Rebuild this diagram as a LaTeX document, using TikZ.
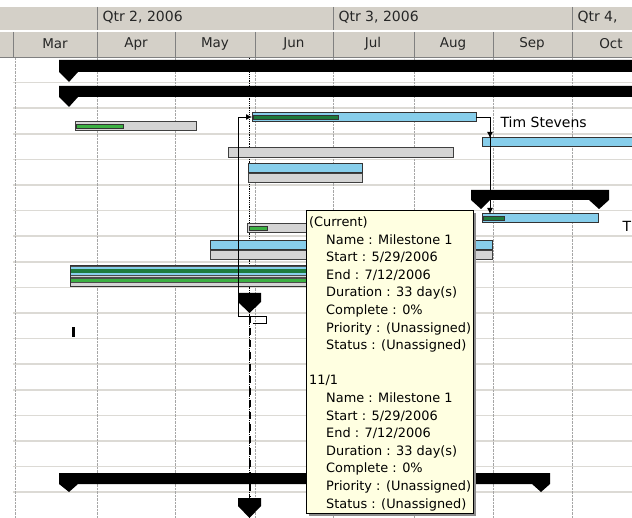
\documentclass[tikz,border=0pt]{standalone}
\usepackage{fontspec}
\setmainfont{DejaVu Sans}
\usepackage{xcolor}
\usepackage{tikz}
\usetikzlibrary{arrows.meta}

\definecolor{hdrgray}{HTML}{D4D0C8}
\definecolor{hdrline}{HTML}{808080}
\definecolor{rowline}{HTML}{DCDAD5}
\definecolor{barblue}{HTML}{87CEEB}
\definecolor{bargray}{HTML}{D4D4D4}
\definecolor{dkgreen}{HTML}{1E7B3C}
\definecolor{ltgreen}{HTML}{3CB043}
\definecolor{tipyellow}{HTML}{FFFFE1}

\tikzset{
	bluebar/.style={fill=barblue, draw=black!80, line width=1pt},
	graybar/.style={fill=bargray, draw=black!75, line width=1pt},
	donebar/.style={draw=black!80, line width=0.6pt},
	link/.style={draw=black, line width=0.8pt, -{Latex[length=6pt,width=6pt]}},
	monthlabel/.style={font=\fontsize{13.5}{15}\selectfont, text=black!85},
	qtrlabel/.style={font=\fontsize{14}{16}\selectfont, text=black!85, anchor=west},
	barlabel/.style={font=\fontsize{14}{16}\selectfont, anchor=west},
	tiptext/.style={font=\fontsize{12.9}{17.6}\selectfont, align=left, inner sep=0pt, anchor=north west}
}

\begin{document}
\begin{tikzpicture}[x=1pt, y=-1pt]
			\clip (0,0) rectangle (632,518);
			\fill[white] (0,0) rectangle (632,518);
			\fill[hdrgray] (0,7) rectangle (632,30);
			\fill[hdrgray] (0,32) rectangle (632,57);
			\draw[hdrline] (0,57) -- (632,57);
			\foreach \qx in {97,333,572} \draw[hdrline] (\qx,7) -- (\qx,30);
			\foreach \mx in {13,97,175,255,333,414,493,572} \draw[hdrline] (\mx,32) -- (\mx,57);
			\node[qtrlabel] (qtrtwo) at (99,17) {Qtr 2, 2006};
			\node[qtrlabel] (qtrthree) at (335,17) {Qtr 3, 2006};
			\node[qtrlabel] (qtrfour) at (574,17) {Qtr 4,};
			\node[monthlabel] (mar) at (55,44) {Mar};
			\node[monthlabel] (apr) at (136,44) {Apr};
			\node[monthlabel] (may) at (215,44) {May};
			\node[monthlabel] (jun) at (294,44) {Jun};
			\node[monthlabel] (jul) at (373,44) {Jul};
			\node[monthlabel] (aug) at (453,44) {Aug};
			\node[monthlabel] (sep) at (532,44) {Sep};
			\node[monthlabel] (oct) at (611,44) {Oct};
			\foreach \k in {1,...,17} \draw[rowline, line width=1.5pt] (13,57+25.6*\k) -- (632,57+25.6*\k);
			\foreach \gx in {15,97,175,255,333,414,493,572} \draw[gray!70, densely dotted] (\gx,58) -- (\gx,518);
			\draw[black, densely dotted, line width=0.8pt] (249,58) -- (249,518);
			\fill (59,60) -- (633,60) -- (633,72) -- (78,72) -- (69,82) -- (59,72) -- cycle;
			\fill (59,86) -- (633,86) -- (633,97) -- (78,97) -- (69,107) -- (59,97) -- cycle;
			\fill (471,190) -- (609,190) -- (609,200) -- (599,209) -- (589,200) -- (490,200) -- (481,209) -- (471,200) -- cycle;
			\fill (59,473) -- (550,473) -- (550,484) -- (541,492) -- (532,484) -- (78,484) -- (69,492) -- (59,484) -- cycle;
			\draw[graybar] (75,122) rectangle (196,131);
			\draw[donebar, fill=ltgreen] (76,124) rectangle (123,128.5);
			\draw[bluebar] (252,113) rectangle (476,122);
			\draw[donebar, fill=dkgreen] (253,115) rectangle (338,119);
			\draw[bluebar] (482,138) rectangle (640,147);
			\draw[graybar] (228,148) rectangle (453,158);
			\draw[bluebar] (248,164) rectangle (362,173);
			\draw[graybar] (248,174) rectangle (362,183);
			\draw[bluebar] (482,214) rectangle (598,223);
			\draw[donebar, fill=dkgreen] (483,216) rectangle (504,220);
			\draw[graybar] (247,224) rectangle (320,233);
			\draw[donebar, fill=ltgreen] (249,226) rectangle (267,230);
			\draw[bluebar] (210,241) rectangle (492,250);
			\draw[graybar] (210,251) rectangle (492,260);
			\draw[fill=black!70, draw=black!80, line width=1pt] (70,266) rectangle (320,287);
			\fill[barblue] (71,267) rectangle (320,268.8);
			\fill[dkgreen] (71,269.5) rectangle (320,272.8);
			\fill[barblue] (71,273.5) rectangle (320,275);
			\fill[bargray] (71,275.8) rectangle (320,277.5);
			\fill[ltgreen] (71,279.5) rectangle (320,282.5);
			\fill[bargray] (71,283.5) rectangle (320,286);
			\fill (238,293) -- (261,293) -- (261,302) -- (249.5,313) -- (238,302) -- cycle;
			\fill (238,498) -- (261,498) -- (261,506) -- (249.5,518) -- (238,506) -- cycle;
			\fill (72,327) rectangle (74.5,337);
			\coordinate (mstail) at (253,323);
			\coordinate (taskstart) at (252,117);
			\coordinate (taskend) at (476,117);
			\coordinate (nexttop) at (490,138);
			\coordinate (lasttop) at (490,214);
			\draw[link] (mstail) -- (266,323) -- (266,316) -- (238,316) |- (taskstart);
			\draw[link] (taskend) -| (nexttop);
			\draw[link] (taskend) -| (lasttop);
			\draw[black, line width=2pt, dash pattern=on 7pt off 5pt] (249.5,316) -- (249.5,497);
			\node[barlabel] (tim) at (497,122) {Tim Stevens};
			\node[barlabel] (timcut) at (619,226) {T};
			\fill[black!45] (309,213) rectangle (476,516);
			\draw[fill=tipyellow, line width=0.8pt] (306,210) rectangle (473,513);
			\node[tiptext] (tip) at (309,216.5)
			{
				(Current)\\
				\hspace*{17pt}Name : Milestone 1\\
				\hspace*{17pt}Start : 5/29/2006\\
				\hspace*{17pt}End : 7/12/2006\\
				\hspace*{17pt}Duration : 33 day(s)\\
				\hspace*{17pt}Complete : 0\%\\
				\hspace*{17pt}Priority : (Unassigned)\\
				\hspace*{17pt}Status : (Unassigned)\\[17.6pt]
				11/1\\
				\hspace*{17pt}Name : Milestone 1\\
				\hspace*{17pt}Start : 5/29/2006\\
				\hspace*{17pt}End : 7/12/2006\\
				\hspace*{17pt}Duration : 33 day(s)\\
				\hspace*{17pt}Complete : 0\%\\
				\hspace*{17pt}Priority : (Unassigned)\\
				\hspace*{17pt}Status : (Unassigned)
			};
		\end{tikzpicture}
\end{document}
